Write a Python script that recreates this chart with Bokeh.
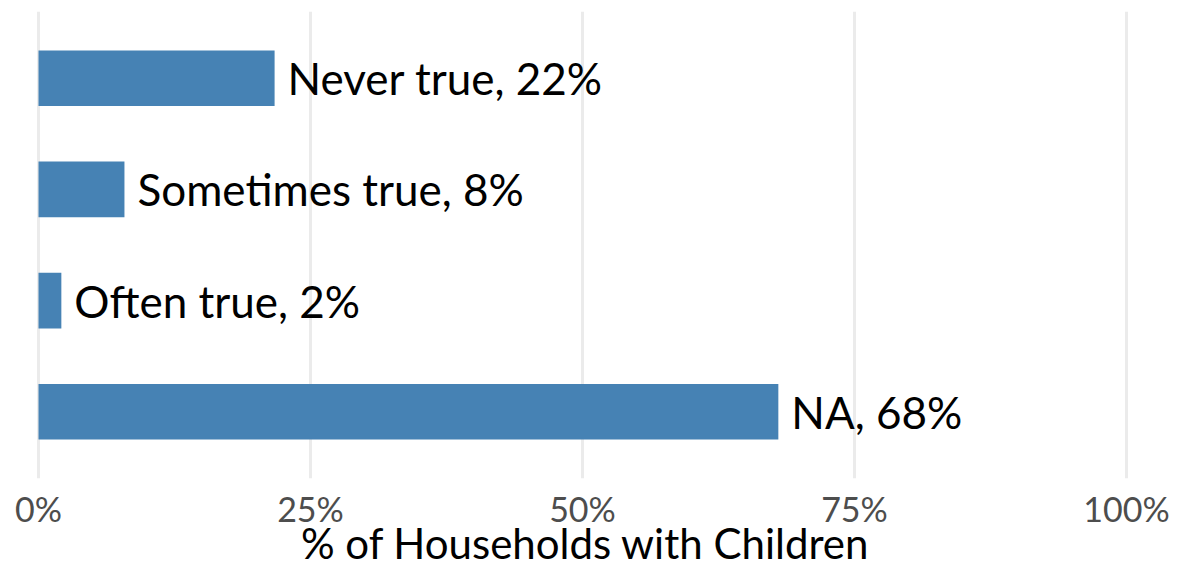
from bokeh.plotting import figure
from bokeh.models import FactorRange, Range1d, ColumnDataSource, FixedTicker, NumeralTickFormatter
from bokeh.core.properties import value
from bokeh.embed import file_html
from bokeh.resources import INLINE

categories = ["Never true", "Sometimes true", "Often true", "NA"]
shares = [0.217, 0.079, 0.021, 0.680]
label_pct = ["22%", "8%", "2%", "68%"]
tick_values = [0, 0.25, 0.5, 0.75, 1.0]
x_title = "% of Households with Children"

labels = [f"{c}, {p}" for c, p in zip(categories, label_pct)]
src = ColumnDataSource(dict(cat=categories, share=shares, label=labels))

FONT = "Lato"
W, H = 1170, 570
LEFT0, SCALE = 38, 1088  # px of 0% and px per 100%

p = figure(
    y_range=FactorRange(factors=list(reversed(categories)), range_padding=0.05,
                        range_padding_units="percent"),
    x_range=Range1d(-LEFT0 / SCALE, (W - LEFT0) / SCALE),
    width=W, height=H,
    min_border_left=0, min_border_right=0, min_border_top=11, min_border_bottom=0,
    output_backend="svg", toolbar_location=None,
)

p.hbar(y="cat", right="share", left=0, height=0.5, source=src,
       fill_color="#4682B4", line_color=None)
p.text(x="share", y="cat", text="label", source=src, x_offset=13,
       text_baseline="middle", text_align="left", text_font=value(FONT),
       text_font_size="44px", text_color="#000000")

p.yaxis.visible = False
p.ygrid.grid_line_color = None
p.xgrid.grid_line_color = "#ebebeb"
p.xgrid.grid_line_width = 3
p.xaxis.ticker = FixedTicker(ticks=tick_values)
p.xaxis.formatter = NumeralTickFormatter(format="0%")
p.xaxis.axis_line_color = None
p.xaxis.major_tick_line_color = None
p.xaxis.minor_tick_line_color = None
p.xaxis.major_label_text_font = FONT
p.xaxis.major_label_text_font_size = "34px"
p.xaxis.major_label_text_color = "#4d4d4d"
p.xaxis.major_label_standoff = 3
p.xaxis.axis_label = x_title
p.xaxis.axis_label_text_font = FONT
p.xaxis.axis_label_text_font_size = "42px"
p.xaxis.axis_label_text_font_style = "normal"
p.xaxis.axis_label_text_color = "#000000"
p.xaxis.axis_label_standoff = -14

p.outline_line_color = None
p.background_fill_color = "white"
p.border_fill_color = "white"

open("out.html", "w").write(file_html(p, INLINE))
